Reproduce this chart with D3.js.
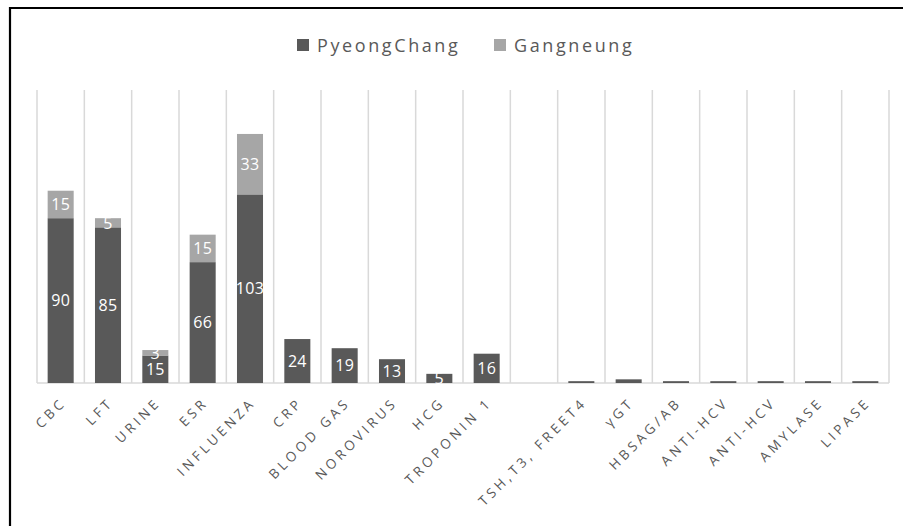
<!DOCTYPE html>
<html><head><meta charset="utf-8">
<script src="https://cdn.jsdelivr.net/npm/d3@7"></script>
<style>body{margin:0;background:#fff;overflow:hidden;} svg{display:block;}</style>
</head><body>
<svg id="chart" width="903" height="526"></svg>
<script>
const categories = ["CBC","LFT","URINE","ESR","INFLUENZA","CRP","BLOOD GAS","NOROVIRUS","HCG","TROPONIN 1","","TSH,T3, FREET4","γGT","HBSAG/AB","ANTI-HCV","ANTI-HCV","AMYLASE","LIPASE"];
const pyeongchang = [90,85,15,66,103,24,19,13,5,16,0,1,2,1,1,1,1,1];
const gangneung   = [15,5,3,15,33,0,0,0,0,0,0,0,0,0,0,0,0,0];
const seriesNames = ["PyeongChang","Gangneung"];
const seriesColors = ["#595959","#a6a6a6"];

const svg = d3.select("#chart");
const W = 903, H = 526;
const margin = {left:37, right:14, top:90, bottom:143};
const x = d3.scaleBand().domain(d3.range(categories.length)).range([margin.left, W - margin.right]).paddingInner(0.45).paddingOuter(0.225);
const y = d3.scaleLinear().domain([0,160]).range([H - margin.bottom, margin.top]);

// frame (left and top edges visible)
svg.append("path").attr("d", `M10,${H} L10,8 L${W},8`)
  .attr("fill","none").attr("stroke","#000").attr("stroke-width",2.2);

// vertical gridlines at band boundaries
const step = x.step();
const bounds = d3.range(categories.length + 1).map(i => margin.left + i * step);
svg.append("g").selectAll("line").data(bounds).join("line")
  .attr("x1", d => d).attr("x2", d => d)
  .attr("y1", y(160)).attr("y2", y(0))
  .attr("stroke", "#d9d9d9").attr("stroke-width", 1.5);

// axis line
svg.append("line").attr("x1", margin.left).attr("x2", W - margin.right)
  .attr("y1", y(0)).attr("y2", y(0)).attr("stroke", "#d9d9d9").attr("stroke-width", 1.5);

// stacked data
const rows = categories.map((c,i) => ({i, p: pyeongchang[i], g: gangneung[i]}));
const stack = d3.stack().keys(["p","g"])(rows);

const font = "'Open Sans', 'Noto Sans', sans-serif";
stack.forEach((layer, k) => {
  const g = svg.append("g");
  g.selectAll("rect").data(layer).join("rect")
    .attr("x", d => x(d.data.i))
    .attr("width", x.bandwidth())
    .attr("y", d => y(d[1]))
    .attr("height", d => y(d[0]) - y(d[1]))
    .attr("fill", seriesColors[k]);
  g.selectAll("text").data(layer.filter(d => d[1] - d[0] >= 3)).join("text")
    .attr("x", d => x(d.data.i) + x.bandwidth()/2)
    .attr("y", d => (y(d[0]) + y(d[1]))/2)
    .attr("dy", "0.36em")
    .attr("text-anchor", "middle")
    .attr("fill", "#fff")
    .attr("font-family", font)
    .attr("font-size", 16)
    .attr("letter-spacing", "0.3px")
    .text(d => d[1] - d[0]);
});

// x labels, rotated -45
svg.append("g").selectAll("text").data(categories.map((c,i)=>({c,i})).filter(d => d.c)).join("text")
  .attr("transform", d => `translate(${x(d.i) + x.bandwidth()/2 + 3},${y(0) + 17}) rotate(-45)`)
  .attr("text-anchor", "end")
  .attr("dy", "0.35em")
  .attr("font-family", font).attr("font-size", 13.5).attr("fill", "#595959")
  .attr("letter-spacing", "3.6px")
  .text(d => d.c);

// legend
const legend = svg.append("g");
const lx = [297, 494];
seriesNames.forEach((n, k) => {
  legend.append("rect").attr("x", lx[k]).attr("y", 39).attr("width", 12).attr("height", 12).attr("fill", seriesColors[k]);
  legend.append("text").attr("x", lx[k] + 20).attr("y", 52)
    .attr("font-family", font).attr("font-size", 18).attr("fill", "#595959")
    .attr("letter-spacing", "2.6px")
    .text(n);
});
</script>
</body></html>
